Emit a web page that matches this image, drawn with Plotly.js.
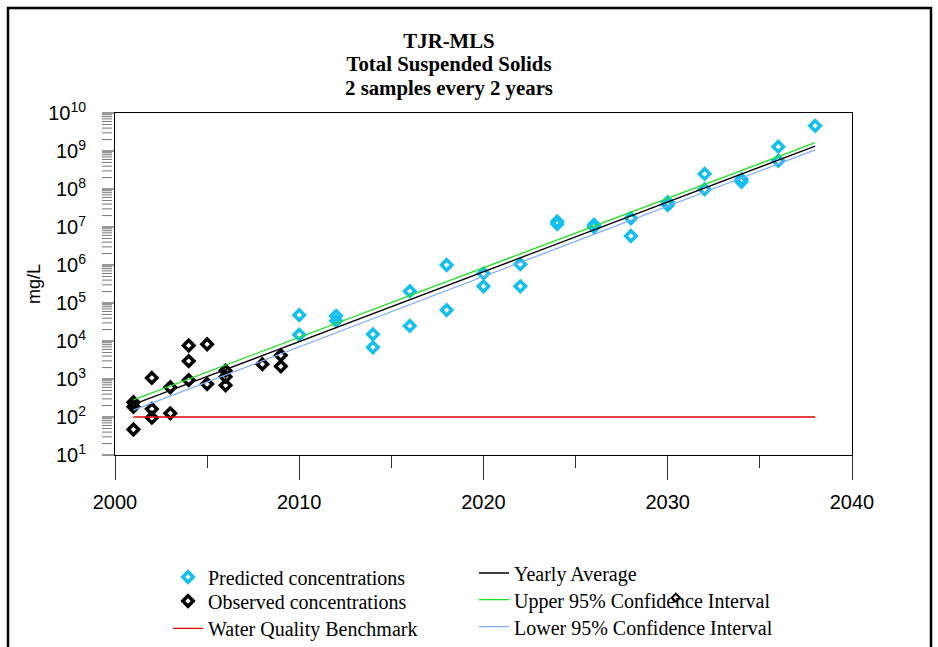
<!DOCTYPE html>
<html>
<head>
<meta charset="utf-8">
<script src="https://cdn.plot.ly/plotly-3.0.1.min.js"></script>
<style>
html,body{margin:0;padding:0;background:#fff;}
#chart{width:938px;height:647px;}
</style>
</head>
<body>
<div id="chart"></div>
<script>
// ---- data ----
var titleLines = ["TJR-MLS", "Total Suspended Solids", "2 samples every 2 years"];

var predYears = [2010,2010,2012,2012,2014,2014,2016,2016,2018,2018,2020,2020,2022,2022,
                 2024,2024,2026,2026,2028,2028,2030,2030,2032,2032,2034,2034,2036,2036,2038];
var predValues = [48000,14700,46000,34000,15000,6800,205000,25000,1.0e6,65000,600000,275000,1.05e6,275000,
                  1.4e7,1.2e7,1.15e7,1.0e7,1.7e7,5.8e6,4.5e7,3.8e7,2.5e8,9.8e7,1.8e8,1.55e8,1.3e9,5.5e8,4.6e9];

var obsYears = [2001,2001,2001,2002,2002,2002,2003,2003,2004,2004,2004,2005,2005,2006,2006,2006,2008,2009,2009];
var obsValues = [47,186,245,1070,162,96,605,125,7600,2960,935,8200,740,1660,1150,680,2460,4200,2150];

var lineYears = [2001, 2038];
var avgValues = [214, 1.35e9];
var upperValues = [282, 1.66e9];
var lowerValues = [151, 1.07e9];

var benchYears = [2001, 2038];
var benchValues = [100, 100];

// stray observed-style marker that sits inside the legend area of the reference
var strayYear = [2030.44];
var strayValue = [0.00176];

var xRange = [2000, 2040];
var yLogRange = [1, 10];
var yDecades = [1,2,3,4,5,6,7,8,9,10];
var yMinorDigits = [2,3,4,5,6,7,8,9];
var yTickText = ["10<sup>1</sup>","10<sup>2</sup>","10<sup>3</sup>","10<sup>4</sup>","10<sup>5</sup>",
                 "10<sup>6</sup>","10<sup>7</sup>","10<sup>8</sup>","10<sup>9</sup>","10<sup>10</sup>"];

// tick positions the axes need, built from the arrays above
var yTickVals = yDecades.map(function(p){ return Math.pow(10, p); });
var yMinorVals = [];
yDecades.slice(0, -1).forEach(function(p){
  yMinorDigits.forEach(function(d){ yMinorVals.push(d * Math.pow(10, p)); });
});

// ---- styling ----
var cyan = "#12BFEF";
var serif = "Liberation Serif, Times New Roman, serif";
var sans = "Liberation Sans, Arial, sans-serif";

var plotW = 938 - 115 - 86;
var plotH = 647 - 113 - 192;
function px2paperX(px){ return (px - 115) / plotW; }
function px2paperY(py){ return (455 - py) / plotH; }
// data -> paper fraction through the axis ranges
function yearToPaper(v){ return (v - xRange[0]) / (xRange[1] - xRange[0]); }
function valueToPaper(v){ return (Math.log10(v) - yLogRange[0]) / (yLogRange[1] - yLogRange[0]); }

var traces = [
  {x: predYears, y: predValues, type: "scatter", mode: "markers", name: "Predicted concentrations",
   legend: "legend",
   marker: {symbol: "diamond-open", size: 8, color: cyan, line: {width: 3.5, color: cyan}}},
  {x: obsYears, y: obsValues, type: "scatter", mode: "markers", name: "Observed concentrations",
   legend: "legend2",
   marker: {symbol: "diamond-open", size: 8, color: "#000", line: {width: 3.5, color: "#000"}}},
  {x: benchYears, y: benchValues, type: "scatter", mode: "lines", name: "Water Quality Benchmark",
   legend: "legend3", line: {color: "#E00000", width: 1.3}},
  {x: lineYears, y: avgValues, type: "scatter", mode: "lines", name: "Yearly Average",
   legend: "legend4", line: {color: "#000", width: 1.3}},
  {x: lineYears, y: upperValues, type: "scatter", mode: "lines", name: "Upper 95% Confidence Interval",
   legend: "legend5", line: {color: "#22E022", width: 1.3}},
  {x: lineYears, y: lowerValues, type: "scatter", mode: "lines", name: "Lower 95% Confidence Interval",
   legend: "legend6", line: {color: "#7FAAFF", width: 1.3}}
];

function legendAt(px, topPy){
  return {
    x: px2paperX(px), xanchor: "left", y: px2paperY(topPy), yanchor: "top",
    orientation: "v", bgcolor: "rgba(0,0,0,0)", borderwidth: 0,
    font: {family: serif, size: 20, color: "#000"}
  };
}

var titleText = titleLines.map(function(s){
  return '<span style="font-size:20.8px">' + s + '</span>';
}).join("<br>");

var strayShapes = strayYear.map(function(yr, i){
  return {type: "path", xref: "paper", yref: "paper",
          xsizemode: "pixel", ysizemode: "pixel",
          xanchor: yearToPaper(yr), yanchor: valueToPaper(strayValue[i]),
          path: "M-4,0 L0,4 L4,0 L0,-4 Z",
          line: {color: "#000", width: 2}, fillcolor: "#fff", layer: "above"};
});

// left-side log tick comb (major + minor), placed from the tick value arrays
function yTickShape(v, lenPx, color){
  var yp = valueToPaper(v);
  return {type: "line", xref: "paper", yref: "paper",
          x0: -13 / plotW, x1: (-13 + lenPx) / plotW, y0: yp, y1: yp,
          line: {color: color, width: 1}, layer: "above"};
}
var yTickShapes = yTickVals.map(function(v){ return yTickShape(v, 12, "#333"); })
  .concat(yMinorVals.map(function(v){ return yTickShape(v, 10, "#777"); }));

var layout = {
  width: 938, height: 647,
  margin: {l: 115, r: 86, t: 113, b: 192, autoexpand: false},
  paper_bgcolor: "#fff", plot_bgcolor: "#fff",
  showlegend: true,
  title: {
    text: titleText,
    font: {family: serif, size: 18, color: "#000", weight: 700},
    xref: "container", x: 449/938, xanchor: "center",
    yref: "container", y: 1 - 48/647, yanchor: "top"
  },
  xaxis: {
    type: "linear", range: xRange,
    tickmode: "linear", tick0: 2000, dtick: 10,
    ticks: "outside", ticklen: 24, tickwidth: 1, tickcolor: "#333",
    ticklabelstandoff: 5,
    minor: {ticks: "outside", ticklen: 12, tickwidth: 1, tickcolor: "#333",
            tickmode: "linear", tick0: 2000, dtick: 5, showgrid: false},
    showline: true, linecolor: "#000", linewidth: 1, mirror: true,
    showgrid: false, zeroline: false,
    tickfont: {family: sans, size: 20, color: "#000"}
  },
  yaxis: {
    type: "log", range: yLogRange,
    tickmode: "array", tickvals: yTickVals, ticktext: yTickText,
    ticks: "", ticklabelstandoff: 24,
    showline: true, linecolor: "#000", linewidth: 1, mirror: true,
    showgrid: false, zeroline: false,
    tickfont: {family: sans, size: 20, color: "#000"},
    title: {text: "mg/L", font: {family: sans, size: 18, color: "#000"}, standoff: 2}
  },
  legend:  legendAt(168, 557.5),
  legend2: legendAt(168, 581.5),
  legend3: legendAt(168, 608.8),
  legend4: legendAt(474, 553.5),
  legend5: legendAt(474, 580.2),
  legend6: legendAt(474, 607.2),
  shapes: [
    {type: "rect", xref: "paper", yref: "paper",
     x0: px2paperX(8), x1: px2paperX(931), y0: px2paperY(700), y1: px2paperY(8),
     line: {color: "#000", width: 2.5}, fillcolor: "rgba(0,0,0,0)", layer: "below"}
  ].concat(yTickShapes).concat(strayShapes)
};

Plotly.newPlot("chart", traces, layout, {staticPlot: true, displayModeBar: false});
</script>
</body>
</html>
